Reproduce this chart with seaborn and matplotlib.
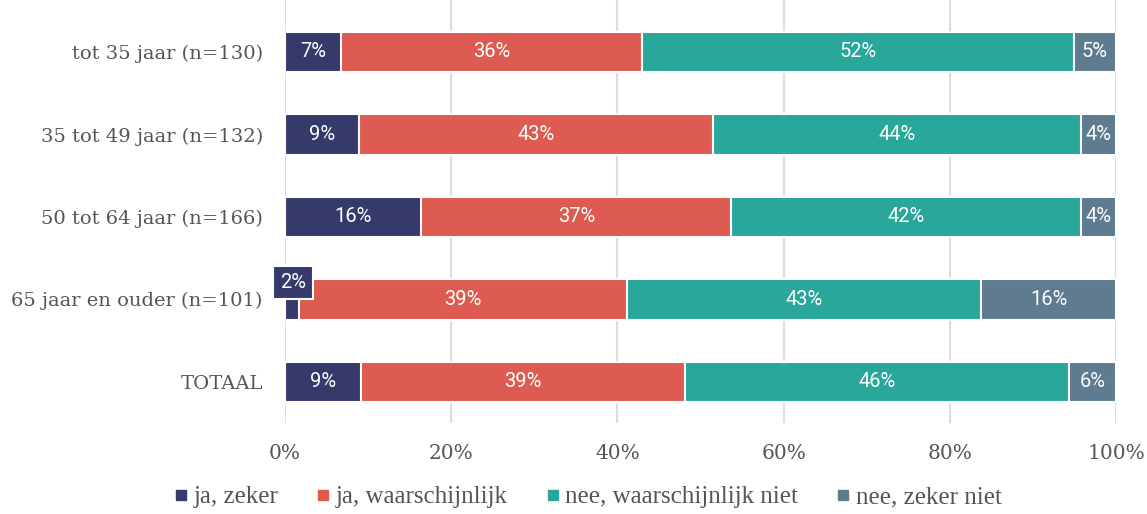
import numpy as np
import pandas as pd
import seaborn as sns
import matplotlib.pyplot as plt
from matplotlib.lines import Line2D

# --- data ---
groups = ['tot 35 jaar (n=130)', '35 tot 49 jaar (n=132)', '50 tot 64 jaar (n=166)',
          '65 jaar en ouder (n=101)', 'TOTAAL']
answers = ['ja, zeker', 'ja, waarschijnlijk', 'nee, waarschijnlijk niet', 'nee, zeker niet']
ja_zeker = [6.7, 8.9, 16.4, 1.7, 9.1]
ja_waarsch = [36.3, 42.6, 37.3, 39.4, 39.0]
nee_waarsch = [51.9, 44.3, 42.1, 42.7, 46.3]
nee_zeker = [5.1, 4.2, 4.2, 16.2, 5.6]
colors = ['#353a6b', '#de5b51', '#2aa79b', '#5e7b8f']

df = pd.DataFrame({'groep': groups, answers[0]: ja_zeker, answers[1]: ja_waarsch,
                   answers[2]: nee_waarsch, answers[3]: nee_zeker})
cum = df[answers].cumsum(axis=1)

sns.set_style('white')
fig = plt.figure(figsize=(11.47, 5.14), dpi=100)
ax = fig.add_axes([0.2485, 0.177, 0.7245, 0.823])

# stacked bars: draw cumulative totals from the widest down
for i in range(len(answers) - 1, -1, -1):
    sns.barplot(x=cum[answers[i]], y=df['groep'], color=colors[i], orient='h',
                width=0.49, saturation=1, edgecolor='white', linewidth=1.5,
                ax=ax, zorder=2)

# labels
for i, a in enumerate(answers):
    vals = df[a].values
    centers = cum[a].values - vals / 2
    for r, (c, v) in enumerate(zip(centers, vals)):
        if v < 3:
            ax.text(c + 0.1, r - 0.2, f'{v:.0f}%', ha='center', va='center', color='white',
                    fontsize=14.5, family='Roboto', zorder=5,
                    bbox=dict(boxstyle='square,pad=0.35', fc=colors[i], ec='white', lw=1.5))
        else:
            ax.text(c, r, f'{v:.0f}%', ha='center', va='center', color='white',
                    fontsize=14.5, family='Roboto', zorder=5)

ax.set_xlim(0, 100)
ax.set_ylim(4.5, -0.63)
ax.set_xticks(np.arange(0, 101, 20))
ax.set_xticklabels([f'{t}%' for t in range(0, 101, 20)], family='DejaVu Serif',
                   fontsize=14.5, color='#555555')
ax.set_yticklabels(groups, family='DejaVu Serif', fontsize=14, color='#555555')
ax.tick_params(axis='x', length=0, pad=15)
ax.tick_params(axis='y', length=0, pad=16)
ax.set_xlabel('')
ax.set_ylabel('')
ax.grid(axis='x', color='#dddddd', lw=1.5, zorder=0)
ax.set_axisbelow(True)
for s in ax.spines.values():
    s.set_visible(False)

handles = [Line2D([], [], marker='s', ls='', color=c, markersize=7) for c in colors]
fig.legend(handles, answers, loc='center', bbox_to_anchor=(0.51, 0.033), ncol=4,
           frameon=False, handletextpad=0.0, columnspacing=1.3, handlelength=1.0,
           prop={'family': 'Liberation Serif', 'size': 18}, labelcolor='#555555')

fig.savefig('out.png', dpi=100)
